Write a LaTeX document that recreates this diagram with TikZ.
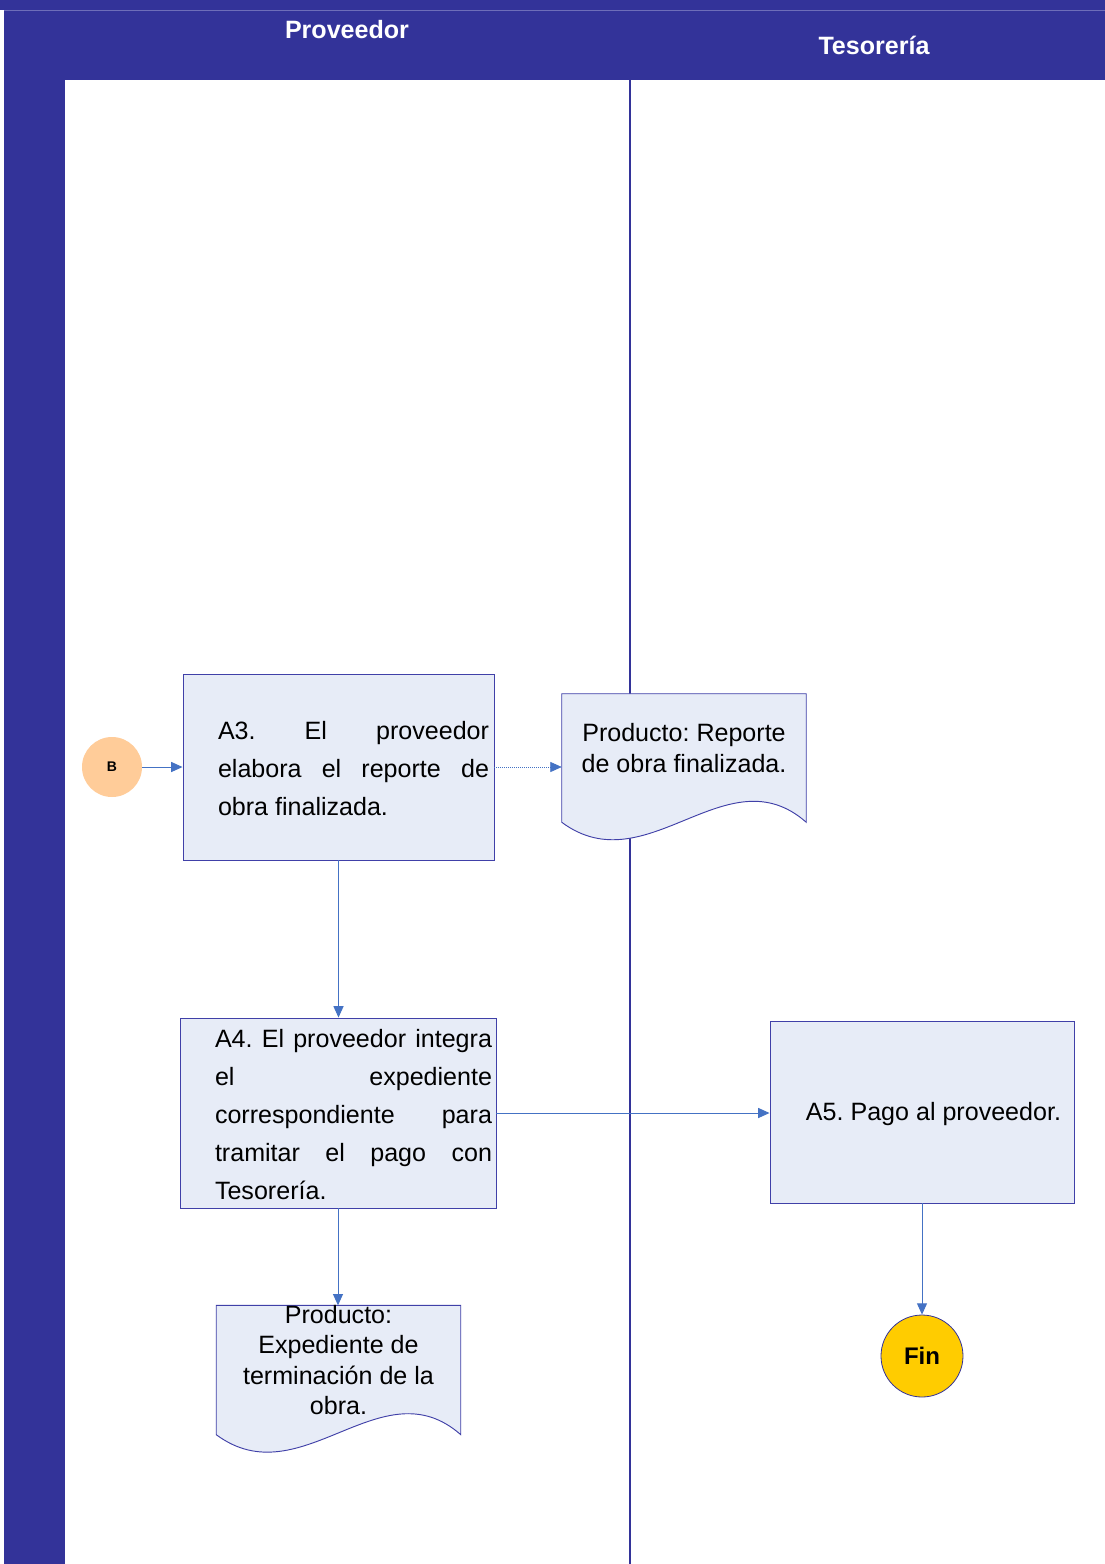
\documentclass[tikz,border=0pt]{standalone}
\usepackage{fontspec}
\setmainfont{Liberation Sans}
\usetikzlibrary{arrows.meta,calc}

\definecolor{lane}{RGB}{51,51,153}
\definecolor{laneline}{RGB}{110,110,185}
\definecolor{boxfill}{RGB}{231,236,247}
\definecolor{boxline}{RGB}{64,64,168}
\definecolor{flow}{RGB}{68,114,196}
\definecolor{startfill}{RGB}{255,204,153}
\definecolor{endfill}{RGB}{255,204,0}

\pgfdeclarelayer{lanes}
\pgfdeclarelayer{background}
\pgfsetlayers{lanes,background,main}

\tikzset{
  lanetitle/.style={text=white,font=\fontsize{18.8pt}{22pt}\selectfont\bfseries,inner sep=0pt},
  activity/.style={draw=boxline,fill=boxfill,line width=0.7pt,inner sep=0pt},
  bodytext/.style={font=\fontsize{18.8pt}{28.5pt}\selectfont\frenchspacing,align=justify,inner sep=0pt},
  doctext/.style={font=\fontsize{18.8pt}{22.6pt}\selectfont\frenchspacing,align=center,inner sep=0pt,
    minimum width=183pt,minimum height=81pt},
  docshape/.style={draw=boxline,fill=boxfill,line width=0.7pt},
  flowline/.style={draw=flow,line width=0.75pt,-{Triangle[length=8.5pt,width=7.5pt]}},
  terminal/.style={circle,inner sep=0pt,font=\bfseries},
}

\begin{document}
\begin{tikzpicture}[x=0.75pt,y=-0.75pt]
\useasboundingbox (0,0) rectangle (1105,1564);

% swimlane frame
\begin{pgfonlayer}{lanes}
  \fill[white] (0,0) rectangle (1105,1564);
  \fill[lane] (0,0) rectangle (1105,10);
  \fill[lane] (4,10) rectangle (1105,80);
  \fill[lane] (4,80) rectangle (65,1564);
  \draw[laneline,line width=0.75pt] (4,10.5) -- (1105,10.5);
  \draw[lane,line width=0.9pt] (630,80) -- (630,1564);
\end{pgfonlayer}

\node[lanetitle] (hprov) at (347,30) {Proveedor};
\node[lanetitle] (htes) at (874,45) {Tesorería};

% activities
\node[activity,minimum width=233.25pt,minimum height=139.5pt] (a3) at (338.5,767) {};
\node[bodytext,text width=203.25pt] (a3t) at (353.5,769)
  {A3. El proveedor\linebreak elabora el reporte de\linebreak obra finalizada.};

\node[activity,minimum width=237pt,minimum height=142.5pt] (a4) at (338,1113) {};
\node[bodytext,text width=207.75pt] (a4t) at (353.5,1114.5)
  {A4. El proveedor integra\linebreak el expediente\linebreak correspondiente para\linebreak tramitar el pago con\linebreak Tesorería.};

\node[activity,minimum width=228pt,minimum height=136.5pt] (a5) at (922,1112) {};
\node[font=\fontsize{18.8pt}{22pt}\selectfont\frenchspacing,inner sep=0pt] (a5t) at (933.5,1114) {A5. Pago al proveedor.};

% documents
\node[doctext] (doc1) at (684,748) {Producto: Reporte\\de obra finalizada.};
\node[doctext] (doc2) at (338.5,1360) {Producto:\\Expediente de\\terminación de la\\obra.};

\begin{pgfonlayer}{background}
  \foreach \d in {doc1,doc2}{
    \draw[docshape] (\d.north west) -- (\d.north east)
      -- ($(\d.south east)+(0,20)$)
      .. controls ($(\d.south west)+(165,-50)$) and ($(\d.south west)+(85,83)$)
      .. ($(\d.south west)+(0,20)$) -- cycle;
  }
\end{pgfonlayer}

% start and end connectors
\node[terminal,fill=startfill,minimum size=45pt,font=\fontsize{10.5pt}{12pt}\selectfont\bfseries] (b) at (112,767) {B};
\node[terminal,fill=endfill,draw=lane,line width=0.6pt,minimum size=61.5pt,font=\fontsize{18pt}{20pt}\selectfont\bfseries] (fin) at (922,1356) {Fin};

% flow
\draw[flowline] (b) -- (a3.west);
\draw[flowline,line width=0.5pt,densely dotted] (a3.east) -- (a3.east -| doc1.west);
\draw[flowline] (a3.south) -- (a3.south |- a4.north);
\draw[flowline] (a4.east) -- (a4.east -| a5.west);
\draw[flowline] (a4.south) -- (a4.south |- doc2.north);
\draw[flowline] (a5.south) -- (fin.north);
\end{tikzpicture}
\end{document}
